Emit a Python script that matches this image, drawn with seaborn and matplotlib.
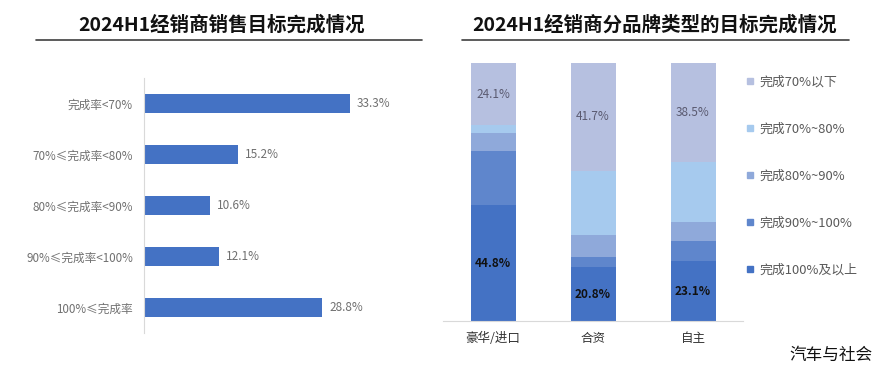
import matplotlib
matplotlib.use("Agg")
import matplotlib.pyplot as plt
from matplotlib.lines import Line2D
import seaborn as sns
import pandas as pd
import numpy as np

# left chart: share of dealers by completion rate
rate_bins = ["完成率<70%", "70%≤完成率<80%", "80%≤完成率<90%", "90%≤完成率<100%", "100%≤完成率"]
rate_share = [33.3, 15.2, 10.6, 12.1, 28.8]

# right chart: completion by brand type (segments bottom -> top)
brands = ["豪华/进口", "合资", "自主"]
levels = ["完成100%及以上", "完成90%~100%", "完成80%~90%", "完成70%~80%", "完成70%以下"]
share_100 = [44.8, 20.8, 23.1]
share_90 = [21.0, 4.1, 8.0]
share_80 = [7.1, 8.3, 7.4]
share_70 = [3.0, 25.1, 23.0]
share_lt70 = [24.1, 41.7, 38.5]
level_colors = ["#4472C4", "#5F86CC", "#8FA9DA", "#A6CAEE", "#B6C0E0"]

sns.set_theme(style="white")
plt.rcParams["font.family"] = ["Noto Sans CJK SC", "DejaVu Sans"]

fig = plt.figure(figsize=(8.88, 3.71), dpi=100)

# ---------- left ----------
ax1 = fig.add_axes([144 / 888, 38 / 371, 276 / 888, 255 / 371])
df1 = pd.DataFrame({"bin": rate_bins, "share": rate_share})
sns.barplot(data=df1, x="share", y="bin", orient="h", color="#4472C4",
            width=0.38, saturation=1, linewidth=0, edgecolor="none", ax=ax1)
ax1.set_xlim(0, 276 / 6.19)
ax1.set_ylim(4.5, -0.5)
ax1.bar_label(ax1.containers[0], labels=[f"{v}%" for v in rate_share],
              padding=5, fontsize=8.5, color="#707070")
ax1.set_xlabel("")
ax1.set_ylabel("")
ax1.set_xticks([])
ax1.tick_params(axis="y", length=0, pad=8, labelsize=8.4, labelcolor="#707070")
for s in ["top", "right", "bottom"]:
    ax1.spines[s].set_visible(False)
ax1.spines["left"].set_color("#D9D9D9")
ax1.spines["left"].set_linewidth(0.8)

# ---------- right ----------
ax2 = fig.add_axes([443 / 888, 50 / 371, 300 / 888, 258 / 371])
seg = pd.DataFrame({"brand": brands, levels[0]: share_100, levels[1]: share_90,
                    levels[2]: share_80, levels[3]: share_70, levels[4]: share_lt70})
cum = seg[levels].cumsum(axis=1)
# overlay cumulative bars, tallest first
for lvl, col in reversed(list(zip(levels, level_colors))):
    sns.barplot(x=seg["brand"], y=cum[lvl], color=col, width=0.45,
                saturation=1, linewidth=0, edgecolor="none", ax=ax2)
ax2.set_xlim(-0.5, 2.5)
ax2.set_ylim(0, 100)

for i in range(len(brands)):
    bottom_v = seg[levels[0]][i]
    ax2.text(i, bottom_v / 2, f"{bottom_v}%", ha="center", va="center",
             fontsize=8.5, fontweight="bold", color="#111111")
    top_v = seg[levels[-1]][i]
    top_base = cum[levels[-2]][i]
    ax2.text(i, top_base + top_v / 2, f"{top_v}%", ha="center", va="center",
             fontsize=8.5, color="#5A5A70")

ax2.set_xlabel("")
ax2.set_ylabel("")
ax2.set_yticks([])
ax2.tick_params(axis="x", length=0, pad=8, labelsize=9, labelcolor="#333333")
for s in ["top", "right", "left"]:
    ax2.spines[s].set_visible(False)
ax2.spines["bottom"].set_color("#D9D9D9")
ax2.spines["bottom"].set_linewidth(0.8)

handles = [Line2D([], [], marker="s", linestyle="", markersize=5,
                  markerfacecolor=c, markeredgecolor=c)
           for c in reversed(level_colors)]
fig.legend(handles, list(reversed(levels)), loc="upper left",
           bbox_to_anchor=(746 / 888, 1 - 76 / 371), frameon=False,
           fontsize=9.3, labelcolor="#595959", labelspacing=2.62,
           handlelength=0.6, handletextpad=0.4, borderpad=0, borderaxespad=0)

# ---------- titles, underlines, watermark ----------
fig.text(222 / 888, 1 - 25 / 371, "2024H1经销商销售目标完成情况", ha="center",
         va="center", fontsize=14, fontweight="bold", color="#111111")
fig.text(655 / 888, 1 - 25 / 371, "2024H1经销商分品牌类型的目标完成情况", ha="center",
         va="center", fontsize=14, fontweight="bold", color="#111111")
fig.add_artist(Line2D([36 / 888, 422 / 888], [1 - 40 / 371] * 2, color="#404040", lw=1.2))
fig.add_artist(Line2D([462 / 888, 849 / 888], [1 - 40 / 371] * 2, color="#404040", lw=1.2))
fig.text(831 / 888, 1 - 355 / 371, "汽车与社会", ha="center", va="center",
         fontsize=12, color="#111111")

fig.savefig("out.png", dpi=100)
